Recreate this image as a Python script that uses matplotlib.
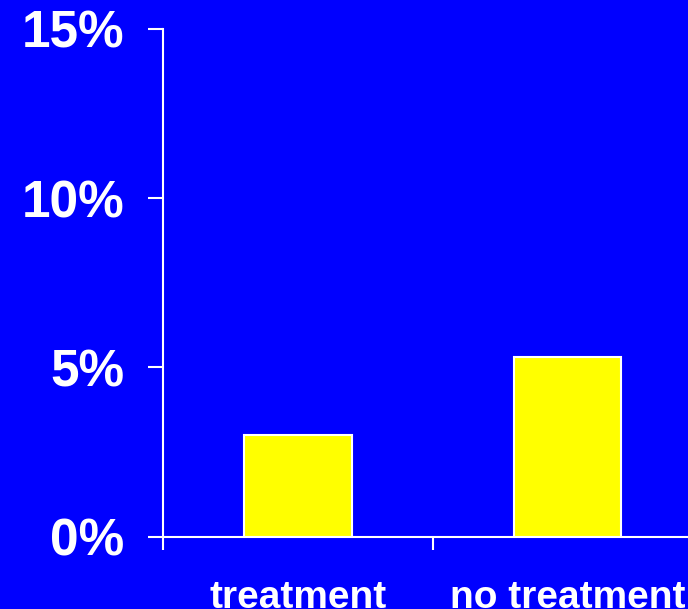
import matplotlib
matplotlib.use('Agg')
import matplotlib.pyplot as plt
import matplotlib.ticker as mticker

# data
categories = ['treatment', 'no treatment']
rates = [3.0, 5.3]
yticks = [0, 5, 10, 15]

plt.rcParams['font.family'] = ['Liberation Sans', 'DejaVu Sans']
plt.rcParams['font.weight'] = 'bold'

blue = '#0000FF'
fig = plt.figure(figsize=(6.88, 6.09), dpi=100, facecolor=blue)
ax = fig.add_axes([0.2369, 0.1187, 0.7631, 0.8342], facecolor=blue)

pos = [i + 0.5 for i in range(len(categories))]
ax.bar(pos, rates, width=0.4, color='#FFFF00', edgecolor='white', linewidth=1.5, zorder=3)

ax.set_ylim(0, 15)
ax.set_xlim(0, 1.947)
ax.set_yticks(yticks)
ax.yaxis.set_major_formatter(mticker.FuncFormatter(lambda v, p: '%d%%' % v))

# x ticks sit between categories, labels at the bar centres
ax.set_xticks([0, 1])
ax.set_xticklabels(['', ''])
ax.set_xticks(pos, minor=True)
ax.set_xticklabels(categories, minor=True)

for side in ['top', 'right']:
    ax.spines[side].set_visible(False)
for side in ['left', 'bottom']:
    ax.spines[side].set_color('white')
    ax.spines[side].set_linewidth(1.5)

ax.tick_params(axis='y', colors='white', length=11, width=1.5, labelsize=37, pad=17)
ax.tick_params(axis='x', which='major', colors='white', length=9, width=1.5)
ax.tick_params(axis='x', which='minor', length=0, labelcolor='white', labelsize=28, pad=31)

fig.savefig('out.png', dpi=100, facecolor=blue)
